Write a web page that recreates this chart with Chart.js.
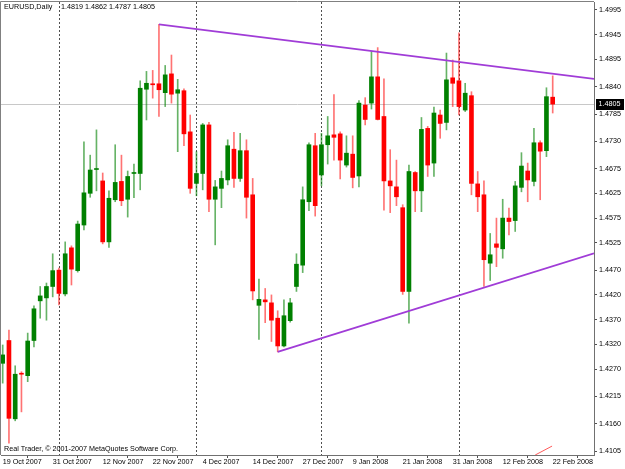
<!DOCTYPE html>
<html lang="en">
<head>
<meta charset="utf-8">
<title>EURUSD,Daily</title>
<script src="https://cdn.jsdelivr.net/npm/chart.js@4.4.1/dist/chart.umd.min.js"></script>
<style>
  html, body { margin: 0; padding: 0; background: #ffffff; overflow: hidden; }
  #grafica { display: block; }
</style>
</head>
<body>
<canvas id="grafica" width="625" height="469"></canvas>
<script>
// Barras diarias EURUSD
const fechas = [
  '19 Oct 2007', '22 Oct 2007', '23 Oct 2007', '24 Oct 2007', '25 Oct 2007', '26 Oct 2007', '29 Oct 2007', '30 Oct 2007', '31 Oct 2007',
  '1 Nov 2007', '2 Nov 2007', '5 Nov 2007', '6 Nov 2007', '7 Nov 2007', '8 Nov 2007', '9 Nov 2007', '12 Nov 2007', '13 Nov 2007',
  '14 Nov 2007', '15 Nov 2007', '16 Nov 2007', '19 Nov 2007', '20 Nov 2007', '21 Nov 2007', '22 Nov 2007', '23 Nov 2007',
  '26 Nov 2007', '27 Nov 2007', '28 Nov 2007', '29 Nov 2007', '30 Nov 2007',
  '3 Dec 2007', '4 Dec 2007', '5 Dec 2007', '6 Dec 2007', '7 Dec 2007', '10 Dec 2007', '11 Dec 2007', '12 Dec 2007', '13 Dec 2007',
  '14 Dec 2007', '17 Dec 2007', '18 Dec 2007', '19 Dec 2007', '20 Dec 2007', '21 Dec 2007', '24 Dec 2007', '26 Dec 2007',
  '27 Dec 2007', '28 Dec 2007', '31 Dec 2007',
  '2 Jan 2008', '3 Jan 2008', '4 Jan 2008', '7 Jan 2008', '8 Jan 2008', '9 Jan 2008', '10 Jan 2008', '11 Jan 2008',
  '14 Jan 2008', '15 Jan 2008', '16 Jan 2008', '17 Jan 2008', '18 Jan 2008', '21 Jan 2008', '22 Jan 2008', '23 Jan 2008',
  '24 Jan 2008', '25 Jan 2008', '28 Jan 2008', '29 Jan 2008', '30 Jan 2008', '31 Jan 2008',
  '1 Feb 2008', '4 Feb 2008', '5 Feb 2008', '6 Feb 2008', '7 Feb 2008', '8 Feb 2008', '11 Feb 2008', '12 Feb 2008',
  '13 Feb 2008', '14 Feb 2008', '15 Feb 2008', '18 Feb 2008', '19 Feb 2008', '20 Feb 2008', '21 Feb 2008', '22 Feb 2008'
];

const apertura = [
  1.4282, 1.4328, 1.4170, 1.4262, 1.4257, 1.4328, 1.4408, 1.4414, 1.4437, 1.4470,
  1.4422, 1.4515, 1.4469, 1.4561, 1.4625, 1.4673, 1.4650, 1.4527, 1.4612, 1.4649,
  1.4613, 1.4665, 1.4665, 1.4835, 1.4846, 1.4846, 1.4828, 1.4866, 1.4827, 1.4832,
  1.4749, 1.4645, 1.4665, 1.4763, 1.4613, 1.4635, 1.4652, 1.4714, 1.4655, 1.4711,
  1.4622, 1.4399, 1.4410, 1.4404, 1.4373, 1.4317, 1.4368, 1.4437, 1.4480, 1.4608,
  1.4721, 1.4662, 1.4723, 1.4743, 1.4745, 1.4682, 1.4704, 1.4660, 1.4803, 1.4807,
  1.4860, 1.4780, 1.4650, 1.4638, 1.4596, 1.4427, 1.4667, 1.4630, 1.4756, 1.4686,
  1.4783, 1.4768, 1.4858, 1.4852, 1.4793, 1.4822, 1.4644, 1.4622, 1.4484, 1.4523,
  1.4513, 1.4575, 1.4570, 1.4637, 1.4670, 1.4649, 1.4727, 1.4711, 1.4819
];
const maximo = [
  1.4319, 1.4349, 1.4277, 1.4265, 1.4343, 1.4398, 1.4437, 1.4444, 1.4503, 1.4474,
  1.4527, 1.4519, 1.4569, 1.4729, 1.4702, 1.4753, 1.4666, 1.4630, 1.4723, 1.4702,
  1.4670, 1.4684, 1.4852, 1.4871, 1.4873, 1.4966, 1.4883, 1.4904, 1.4855, 1.4836,
  1.4783, 1.4709, 1.4766, 1.4768, 1.4651, 1.4670, 1.4733, 1.4748, 1.4746, 1.4733,
  1.4655, 1.4452, 1.4433, 1.4420, 1.4388, 1.4410, 1.4413, 1.4503, 1.4638, 1.4727,
  1.4746, 1.4746, 1.4780, 1.4824, 1.4749, 1.4741, 1.4741, 1.4812, 1.4818, 1.4911,
  1.4919, 1.4856, 1.4713, 1.4692, 1.4602, 1.4682, 1.4669, 1.4778, 1.4760, 1.4799,
  1.4793, 1.4908, 1.4894, 1.4949, 1.4847, 1.4830, 1.4669, 1.4650, 1.4544, 1.4575,
  1.4613, 1.4595, 1.4649, 1.4707, 1.4686, 1.4756, 1.4731, 1.4838, 1.4862
];
const minimo = [
  1.4242, 1.4121, 1.4166, 1.4184, 1.4245, 1.4315, 1.4373, 1.4369, 1.4416, 1.4400,
  1.4418, 1.4440, 1.4466, 1.4551, 1.4617, 1.4630, 1.4523, 1.4516, 1.4608, 1.4600,
  1.4577, 1.4616, 1.4632, 1.4773, 1.4817, 1.4780, 1.4800, 1.4807, 1.4709, 1.4721,
  1.4625, 1.4620, 1.4632, 1.4588, 1.4521, 1.4596, 1.4642, 1.4637, 1.4649, 1.4575,
  1.4410, 1.4330, 1.4364, 1.4326, 1.4305, 1.4315, 1.4365, 1.4427, 1.4465, 1.4590,
  1.4579, 1.4640, 1.4684, 1.4692, 1.4654, 1.4678, 1.4636, 1.4638, 1.4763, 1.4795,
  1.4773, 1.4591, 1.4586, 1.4600, 1.4421, 1.4363, 1.4588, 1.4588, 1.4659, 1.4659,
  1.4736, 1.4753, 1.4800, 1.4783, 1.4790, 1.4622, 1.4588, 1.4437, 1.4449, 1.4477,
  1.4494, 1.4541, 1.4548, 1.4628, 1.4608, 1.4640, 1.4612, 1.4699, 1.4787
];
const cierre = [
  1.4299, 1.4171, 1.4260, 1.4260, 1.4327, 1.4392, 1.4418, 1.4437, 1.4469, 1.4423,
  1.4503, 1.4472, 1.4563, 1.4626, 1.4672, 1.4674, 1.4527, 1.4615, 1.4647, 1.4610,
  1.4659, 1.4667, 1.4837, 1.4847, 1.4844, 1.4834, 1.4864, 1.4825, 1.4834, 1.4745,
  1.4635, 1.4665, 1.4763, 1.4613, 1.4638, 1.4655, 1.4721, 1.4655, 1.4711, 1.4617,
  1.4428, 1.4411, 1.4406, 1.4369, 1.4317, 1.4378, 1.4404, 1.4482, 1.4612, 1.4723,
  1.4600, 1.4723, 1.4741, 1.4738, 1.4692, 1.4706, 1.4657, 1.4807, 1.4774, 1.4860,
  1.4774, 1.4650, 1.4640, 1.4618, 1.4427, 1.4669, 1.4630, 1.4754, 1.4682, 1.4787,
  1.4766, 1.4854, 1.4847, 1.4800, 1.4827, 1.4645, 1.4618, 1.4491, 1.4501, 1.4516,
  1.4575, 1.4568, 1.4640, 1.4680, 1.4652, 1.4727, 1.4710, 1.4820, 1.4805
];

// Marcas de los ejes
const indicesEtiquetas = [0, 8, 16, 24, 32, 40, 48, 56, 64, 72, 80, 88];
const valoresEjeY = [1.4995, 1.4945, 1.4895, 1.4840, 1.4785, 1.4730, 1.4675, 1.4625, 1.4575,
  1.4525, 1.4470, 1.4420, 1.4370, 1.4320, 1.4270, 1.4215, 1.4160, 1.4105];

// Separadores de mes (índice de barra)
const separadoresMes = [9, 31, 51, 73];

// Rango visible
const xMin = -0.272;
const xMax = 94.608;
const yMin = 1.4097;
const yMax = 1.5011;

// Líneas de tendencia: [índice, precio]
const lineaSuperior = [[25, 1.4966], [xMax, 1.4856]];
const lineaInferior = [[44, 1.4305], [xMax, 1.4504]];
const lineaRoja = [[85.2, 1.4097], [87.9, 1.4115]];

const precioActual = 1.4805;
const cabecera = 'EURUSD,Daily';
const cabeceraPrecios = '1.4819 1.4862 1.4787 1.4805';
const copyright = 'Real Trader, \u00a9 2001-2007 MetaQuotes Software Corp.';

const fuente = '"Liberation Sans", Arial, sans-serif';

// Colores por vela
const subida = cierre.map((c, i) => c >= apertura[i]);
const colorCuerpo = subida.map(s => s ? 'rgb(0,128,0)' : 'rgb(255,0,0)');
const colorMecha = subida.map(s => s ? 'rgba(0,128,0,0.6)' : 'rgba(255,0,0,0.55)');

const puntos = (arr) => arr.map(p => ({ x: p[0], y: p[1] }));

// Dibujos extra: separadores, precio actual, textos
const decoracion = {
  id: 'decoracion',
  beforeDatasetsDraw(chart) {
    const { ctx, chartArea: a, scales: { x, y } } = chart;
    ctx.save();
    const yp = Math.round(y.getPixelForValue(precioActual)) + 0.5;
    ctx.strokeStyle = '#c8c8c8';
    ctx.lineWidth = 1;
    ctx.beginPath();
    ctx.moveTo(a.left, yp);
    ctx.lineTo(a.right, yp);
    ctx.stroke();

    ctx.strokeStyle = '#505050';
    ctx.setLineDash([2, 2]);
    separadoresMes.forEach(i => {
      const xp = Math.round(x.getPixelForValue(i)) + 0.5;
      ctx.beginPath();
      ctx.moveTo(xp, a.top);
      ctx.lineTo(xp, a.bottom);
      ctx.stroke();
    });
    ctx.restore();
  },
  afterDraw(chart) {
    const { ctx, chartArea: a, scales: { y } } = chart;
    ctx.save();
    // borde superior e izquierdo
    ctx.strokeStyle = '#808080';
    ctx.lineWidth = 1;
    ctx.beginPath();
    ctx.moveTo(a.left - 0.5, a.bottom);
    ctx.lineTo(a.left - 0.5, a.top - 0.5);
    ctx.lineTo(a.right, a.top - 0.5);
    ctx.stroke();

    ctx.font = '7.2px ' + fuente;
    ctx.fillStyle = '#000';
    ctx.textBaseline = 'middle';
    ctx.textAlign = 'left';
    ctx.fillText(cabecera, 4, 7.5);
    ctx.fillText(cabeceraPrecios, 61, 7.5);
    ctx.fillText(copyright, 4, 449);

    // etiqueta del precio actual
    const yp = Math.round(y.getPixelForValue(precioActual));
    ctx.fillStyle = '#000';
    ctx.fillRect(596, yp - 5, 28, 11);
    ctx.fillStyle = '#fff';
    ctx.fillText(precioActual.toFixed(4), 598.5, yp + 0.5);
    ctx.restore();
  }
};

const ctx = document.getElementById('grafica').getContext('2d');
const grafica = new Chart(ctx, {
  type: 'bar',
  data: {
    datasets: [
      {
        type: 'line',
        data: puntos(lineaSuperior),
        borderColor: 'rgb(160,60,215)',
        borderWidth: 1.8,
        pointRadius: 0,
        fill: false,
        order: 1
      },
      {
        type: 'line',
        data: puntos(lineaInferior),
        borderColor: 'rgb(160,60,215)',
        borderWidth: 1.8,
        pointRadius: 0,
        fill: false,
        order: 1
      },
      {
        type: 'line',
        data: puntos(lineaRoja),
        borderColor: 'rgb(255,90,90)',
        borderWidth: 1,
        pointRadius: 0,
        fill: false,
        order: 1
      },
      {
        // cuerpos
        data: apertura.map((o, i) => ({ x: i, y: [o, cierre[i]] })),
        backgroundColor: colorCuerpo,
        barThickness: 4,
        minBarLength: 1,
        grouped: false,
        borderWidth: 0,
        order: 2
      },
      {
        // mechas
        data: minimo.map((l, i) => ({ x: i, y: [l, maximo[i]] })),
        backgroundColor: colorMecha,
        barThickness: 1,
        grouped: false,
        borderWidth: 0,
        order: 3
      }
    ]
  },
  options: {
    responsive: false,
    devicePixelRatio: 1,
    animation: false,
    layout: { padding: { left: 1, top: 2, right: 0, bottom: 0 } },
    plugins: {
      legend: { display: false },
      tooltip: { enabled: false }
    },
    scales: {
      x: {
        type: 'linear',
        min: xMin,
        max: xMax,
        offset: false,
        afterBuildTicks: (scale) => { scale.ticks = indicesEtiquetas.map(v => ({ value: v })); },
        afterFit: (scale) => {
          scale.height = 14;
          scale.paddingLeft = 0;
          scale.paddingRight = 0;
        },
        grid: { drawOnChartArea: false, drawTicks: true, tickLength: 3, color: '#505050' },
        border: { display: true, color: '#707070' },
        ticks: {
          autoSkip: false,
          maxRotation: 0,
          align: 'start',
          padding: 0,
          color: '#000',
          font: { family: fuente, size: 7.2 },
          callback: (v) => fechas[v]
        }
      },
      y: {
        type: 'linear',
        position: 'right',
        min: yMin,
        max: yMax,
        afterBuildTicks: (scale) => { scale.ticks = valoresEjeY.map(v => ({ value: v })); },
        afterFit: (scale) => {
          scale.width = 31;
          scale.paddingTop = 0;
          scale.paddingBottom = 0;
        },
        grid: { drawOnChartArea: false, drawTicks: true, tickLength: 3, color: '#505050' },
        border: { display: true, color: '#707070' },
        ticks: {
          autoSkip: false,
          padding: 2,
          color: '#000',
          font: { family: fuente, size: 7.2 },
          callback: (v) => Number(v).toFixed(4)
        }
      }
    }
  },
  plugins: [decoracion]
});
</script>
</body>
</html>
